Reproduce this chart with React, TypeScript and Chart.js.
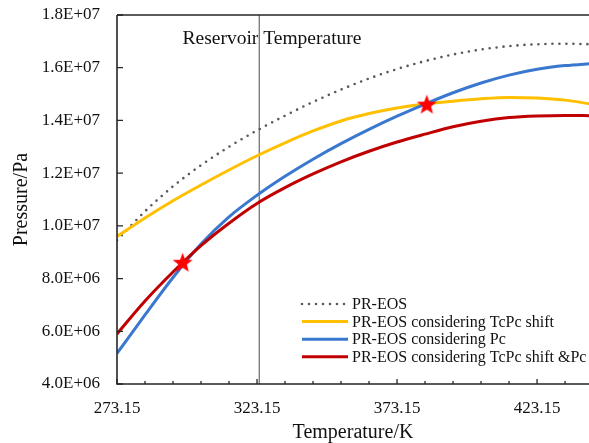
import React, { useEffect, useRef } from 'react';
import { Chart, registerables } from 'chart.js';

Chart.register(...registerables);

// ---- data ----
const temperatures = [273.15, 283.15, 293.15, 303.15, 313.15, 323.15, 333.15, 343.15, 353.15, 363.15, 373.15, 383.15, 393.15, 403.15, 413.15, 423.15, 433.15, 443.15];
const prEos = [9.45e6, 1.055e7, 1.15e7, 1.23e7, 1.3e7, 1.362e7, 1.418e7, 1.47e7, 1.517e7, 1.559e7, 1.595e7, 1.625e7, 1.65e7, 1.669e7, 1.682e7, 1.689e7, 1.691e7, 1.689e7];
const tcpcShift = [9.6e6, 1.03e7, 1.095e7, 1.155e7, 1.212e7, 1.266e7, 1.315e7, 1.36e7, 1.398e7, 1.426e7, 1.447e7, 1.462e7, 1.473e7, 1.482e7, 1.487e7, 1.485e7, 1.477e7, 1.461e7];
const pcOnly = [5.16e6, 6.62e6, 8.04e6, 9.31e6, 1.034e7, 1.116e7, 1.188e7, 1.253e7, 1.312e7, 1.366e7, 1.416e7, 1.462e7, 1.505e7, 1.542e7, 1.572e7, 1.594e7, 1.608e7, 1.616e7];
const tcpcShiftPc = [5.9e6, 7.15e6, 8.25e6, 9.25e6, 1.01e7, 1.085e7, 1.145e7, 1.197e7, 1.243e7, 1.283e7, 1.318e7, 1.348e7, 1.376e7, 1.397e7, 1.411e7, 1.417e7, 1.419e7, 1.418e7];
const starTemps = [296.6, 383.8];
const starPressures = [8.62e6, 1.462e7];
const reservoirTemp = 323.95;
const reservoirLabel = 'Reservoir Temperature';
const reservoirLabelT = 328.5;
const reservoirLabelP = 1.711e7;

const seriesLabels = [
  'PR-EOS',
  'PR-EOS considering TcPc shift',
  'PR-EOS considering Pc',
  'PR-EOS considering TcPc shift &Pc',
];
const xMajorTicks = [273.15, 323.15, 373.15, 423.15];
const xMinorTicks = [283.15, 293.15, 303.15, 313.15, 333.15, 343.15, 353.15, 363.15, 383.15, 393.15, 403.15, 413.15, 433.15];
const yTicks = [4e6, 6e6, 8e6, 1e7, 1.2e7, 1.4e7, 1.6e7, 1.8e7];
const xMin = 273.15;
const xMax = 441.7;
const yMin = 4e6;
const yMax = 1.8e7;

const FONT = '"Liberation Serif", "Times New Roman", serif';
const COLORS = ['#595959', '#FFC000', '#3A78D0', '#C00000'];

function sci(v: number): string {
  if (v === 0) return '0.0E+00';
  const e = Math.floor(Math.log10(Math.abs(v)) + 1e-9);
  const m = v / Math.pow(10, e);
  const sign = e < 0 ? '-' : '+';
  return m.toFixed(1) + 'E' + sign + String(Math.abs(e)).padStart(2, '0');
}

function makeStar(size: number, color: string): HTMLCanvasElement {
  const c = document.createElement('canvas');
  c.width = size;
  c.height = size;
  const g = c.getContext('2d')!;
  const cx = size / 2, cy = size / 2 + 1;
  const R = size / 2, r = R * 0.42;
  g.beginPath();
  for (let i = 0; i < 10; i++) {
    const ang = -Math.PI / 2 + (i * Math.PI) / 5;
    const rad = i % 2 === 0 ? R : r;
    const px = cx + rad * Math.cos(ang);
    const py = cy + rad * Math.sin(ang);
    if (i === 0) g.moveTo(px, py); else g.lineTo(px, py);
  }
  g.closePath();
  g.fillStyle = color;
  g.fill();
  return c;
}

function zeroPad(s: any) {
  s.paddingLeft = 0;
  s.paddingRight = 0;
  s.paddingTop = 0;
  s.paddingBottom = 0;
}

export default function App() {
  const ref = useRef<HTMLCanvasElement | null>(null);

  useEffect(() => {
    if (!ref.current) return;
    const series = [prEos, tcpcShift, pcOnly, tcpcShiftPc];
    const toXY = (arr: number[]) => arr.map((p, i) => ({ x: temperatures[i], y: p }));

    const framePlugin = {
      id: 'frame',
      beforeDatasetsDraw(chart: any) {
        const { ctx, chartArea: a, scales } = chart;
        const x = scales.x, y = scales.y;
        ctx.save();
        ctx.font = `19.5px ${FONT}`;
        ctx.fillStyle = '#111';
        ctx.textAlign = 'center';
        ctx.textBaseline = 'middle';
        ctx.fillText(reservoirLabel, x.getPixelForValue(reservoirLabelT), y.getPixelForValue(reservoirLabelP));
        const rx = x.getPixelForValue(reservoirTemp);
        ctx.strokeStyle = '#6a6a6a';
        ctx.lineWidth = 1.2;
        ctx.beginPath();
        ctx.moveTo(rx, a.top);
        ctx.lineTo(rx, a.bottom);
        ctx.stroke();
        ctx.restore();
      },
      afterDraw(chart: any) {
        const { ctx, chartArea: a, scales } = chart;
        const x = scales.x, y = scales.y;
        ctx.save();
        ctx.strokeStyle = '#262626';
        ctx.lineWidth = 1.6;
        ctx.beginPath();
        ctx.moveTo(a.left, a.top);
        ctx.lineTo(a.right, a.top);
        ctx.moveTo(a.left, a.top);
        ctx.lineTo(a.left, a.bottom);
        ctx.lineTo(a.right, a.bottom);
        ctx.stroke();
        ctx.lineWidth = 1.3;
        ctx.beginPath();
        yTicks.forEach((v) => {
          const py = y.getPixelForValue(v);
          ctx.moveTo(a.left, py);
          ctx.lineTo(a.left + 6, py);
        });
        xMajorTicks.forEach((v) => {
          const px = x.getPixelForValue(v);
          ctx.moveTo(px, a.bottom);
          ctx.lineTo(px, a.bottom - 5);
        });
        xMinorTicks.forEach((v) => {
          const px = x.getPixelForValue(v);
          ctx.moveTo(px, a.bottom);
          ctx.lineTo(px, a.bottom - 3);
        });
        ctx.stroke();

        // legend
        const x0 = a.left + 185;
        const x1 = a.left + 231;
        const tx = a.left + 235;
        const y0 = a.bottom - 80;
        const step = 17.6;
        ctx.font = `16px ${FONT}`;
        ctx.textAlign = 'left';
        ctx.textBaseline = 'middle';
        seriesLabels.forEach((label, i) => {
          const ly = y0 + i * step;
          ctx.save();
          ctx.strokeStyle = COLORS[i];
          if (i === 0) {
            ctx.lineWidth = 2.6;
            ctx.lineCap = 'round';
            ctx.setLineDash([0, 7]);
          } else {
            ctx.lineWidth = 3;
            ctx.lineCap = 'butt';
          }
          ctx.beginPath();
          ctx.moveTo(x0, ly);
          ctx.lineTo(x1, ly);
          ctx.stroke();
          ctx.restore();
          ctx.fillStyle = '#111';
          ctx.fillText(label, tx, ly + 1);
        });
        ctx.restore();
      },
    };

    const star = makeStar(21, '#FF0000');

    const chart = new Chart(ref.current, {
      type: 'line',
      data: {
        datasets: [
          {
            label: 'stars',
            data: starTemps.map((t, i) => ({ x: t, y: starPressures[i] })),
            showLine: false,
            pointStyle: star as any,
            pointRadius: 10,
            order: -1,
            borderColor: '#FF0000',
            backgroundColor: '#FF0000',
          },
          ...series.map((arr, i) => ({
            label: seriesLabels[i],
            data: toXY(arr),
            borderColor: COLORS[i],
            backgroundColor: COLORS[i],
            borderWidth: i === 0 ? 2.6 : 3,
            borderDash: i === 0 ? [0, 7] : [],
            borderCapStyle: (i === 0 ? 'round' : 'butt') as any,
            pointRadius: 0,
            cubicInterpolationMode: 'monotone' as const,
            fill: false,
            order: i === 0 ? 4 : 4 - i,
          })),
        ],
      },
      options: {
        animation: false,
        responsive: false,
        devicePixelRatio: 1,
        layout: { autoPadding: false, padding: { top: 15, right: 0, left: 0, bottom: 0 } },
        plugins: {
          legend: { display: false },
          tooltip: { enabled: false },
        },
        scales: {
          x: {
            type: 'linear',
            min: xMin,
            max: xMax,
            afterFit: (s: any) => { s.height = 59; zeroPad(s); },
            afterBuildTicks: (s: any) => { s.ticks = xMajorTicks.map((v) => ({ value: v })); },
            grid: { display: false, drawTicks: false },
            border: { display: false },
            ticks: {
              autoSkip: false,
              maxRotation: 0,
              minRotation: 0,
              padding: 14,
              color: '#111',
              font: { family: FONT, size: 17 },
              callback: (v: any) => Number(v).toFixed(2),
            },
            title: {
              display: true,
              text: 'Temperature/K',
              color: '#111',
              font: { family: FONT, size: 20, lineHeight: 1 },
              padding: { top: 0, bottom: 0 },
            },
          },
          y: {
            type: 'linear',
            min: yMin,
            max: yMax,
            afterFit: (s: any) => { s.width = 117; zeroPad(s); },
            afterBuildTicks: (s: any) => { s.ticks = yTicks.map((v) => ({ value: v })); },
            grid: { display: false, drawTicks: false },
            border: { display: false },
            ticks: {
              autoSkip: false,
              padding: 17,
              color: '#111',
              font: { family: FONT, size: 17 },
              callback: (v: any) => sci(Number(v)),
            },
            title: {
              display: true,
              text: 'Pressure/Pa',
              color: '#111',
              font: { family: FONT, size: 20, lineHeight: 1 },
              padding: { top: 12, bottom: 0 },
            },
          },
        },
      },
      plugins: [framePlugin],
    } as any);

    return () => chart.destroy();
  }, []);

  return (
    <div style={{ position: 'fixed', left: 0, top: 0, width: 589, height: 443, background: '#fff' }}>
      <canvas ref={ref} width={589} height={443} style={{ width: 589, height: 443, display: 'block' }} />
    </div>
  );
}
